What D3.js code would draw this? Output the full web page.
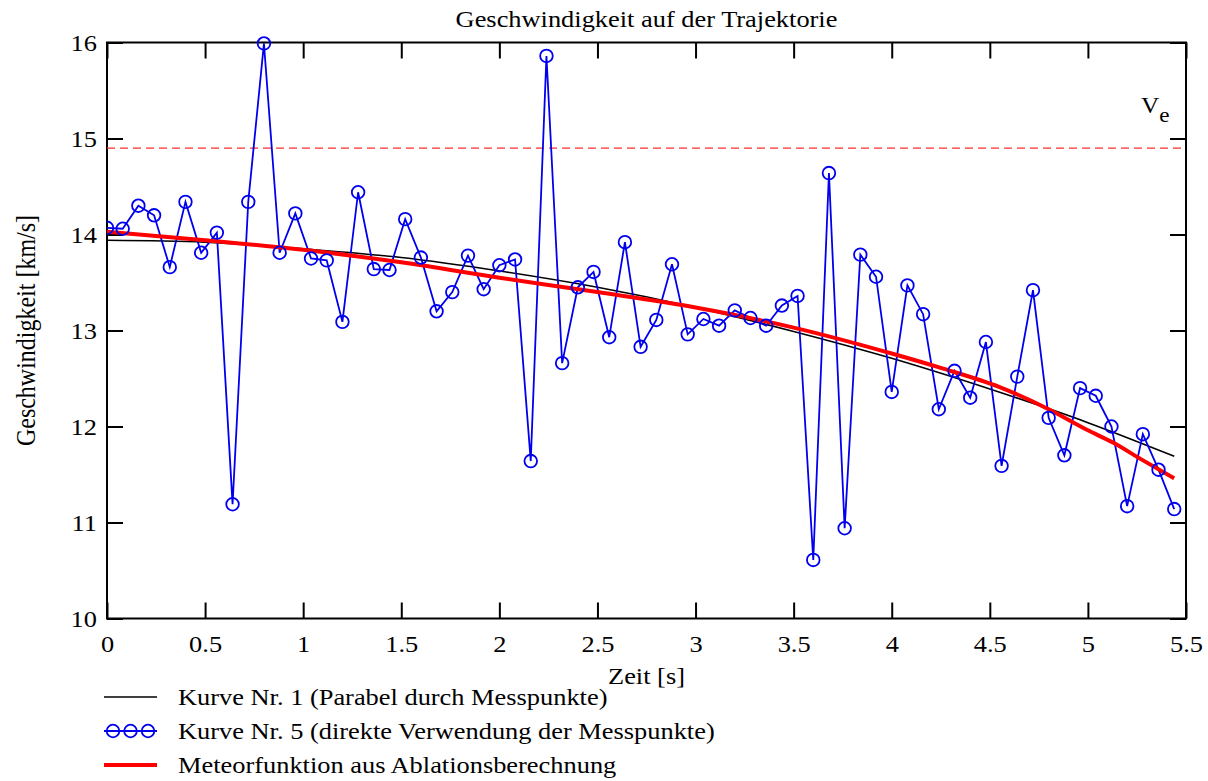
<!DOCTYPE html>
<html>
<head>
<meta charset="utf-8">
<script src="https://cdn.jsdelivr.net/npm/d3@7"></script>
<style>
  body { margin: 0; background: #fff; }
</style>
</head>
<body>
<div class="canvas"></div>
<script>
// measured speeds, one every 0.08 s (Kurve Nr. 5)
const messZeit = d3.range(69).map(i => +(i * 0.08).toFixed(2));
const messWerte = [
  14.07, 14.06, 14.30, 14.20, 13.66, 14.34, 13.81, 14.02, 11.19, 14.34,
  15.99, 13.81, 14.22, 13.75, 13.73, 13.09, 14.44, 13.64, 13.63, 14.16,
  13.76, 13.20, 13.40, 13.78, 13.43, 13.68, 13.74, 11.64, 15.86, 12.66,
  13.45, 13.61, 12.93, 13.92, 12.83, 13.11, 13.69, 12.96, 13.12, 13.05,
  13.21, 13.13, 13.05, 13.26, 13.36, 10.61, 14.64, 10.94, 13.79, 13.56,
  12.36, 13.47, 13.17, 12.18, 12.58, 12.30, 12.88, 11.59, 12.52, 13.42,
  12.09, 11.70, 12.40, 12.32, 12.00, 11.17, 11.92, 11.55, 11.14
];

// Kurve Nr. 1 (parabola), read at a few times
const parabelZeit  = [0, 0.5, 1, 1.5, 2, 2.5, 3, 3.5, 4, 4.5, 5, 5.44];
const parabelWerte = [13.94, 13.92, 13.85, 13.76, 13.62, 13.45, 13.24, 12.99, 12.71, 12.39, 12.04, 11.69];

// Meteorfunktion aus Ablationsberechnung
const meteorZeit  = [0, 0.5, 1, 1.5, 2, 2.5, 3, 3.5, 4, 4.25, 4.55, 4.8, 5, 5.13, 5.27, 5.44];
const meteorWerte = [14.03, 13.94, 13.84, 13.71, 13.55, 13.40, 13.24, 13.03, 12.76, 12.61, 12.41, 12.18, 11.96, 11.83, 11.66, 11.46];

const ve = 14.9;

const xTicks = [0, 0.5, 1, 1.5, 2, 2.5, 3, 3.5, 4, 4.5, 5, 5.5];
const yTicks = [10, 11, 12, 13, 14, 15, 16];

const legendTexte = [
  "Kurve Nr. 1 (Parabel durch Messpunkte)",
  "Kurve Nr. 5 (direkte Verwendung der Messpunkte)",
  "Meteorfunktion aus Ablationsberechnung"
];

const W = 1208, H = 781;
const plot = { left: 107, top: 42.5, right: 1186, bottom: 618.5 };
const serif = "'Liberation Serif', 'Times New Roman', serif";
const fs = 24;        // font size
const sx = 1.1;       // the original text is a bit wider than high

const svg = d3.select(".canvas").append("svg").attr("width", W).attr("height", H);

const x = d3.scaleLinear().domain([0, 5.5]).range([plot.left, plot.right]);
const y = d3.scaleLinear().domain([10, 16]).range([plot.bottom, plot.top]);

// horizontal text, slightly stretched
function label(px, py, txt, anchor) {
  return svg.append("text")
    .attr("transform", `translate(${px},${py}) scale(${sx},1)`)
    .attr("text-anchor", anchor || "start")
    .style("font-family", serif)
    .style("font-size", fs + "px")
    .text(txt);
}

svg.append("clipPath").attr("id", "clip")
  .append("rect")
  .attr("x", plot.left).attr("y", plot.top - 8)
  .attr("width", plot.right - plot.left).attr("height", plot.bottom - plot.top + 8);

// title
label((plot.left + plot.right) / 2, 27, "Geschwindigkeit auf der Trajektorie", "middle");

// axes, ticks inward on all four sides
const tick = 16;
const axB = svg.append("g").attr("transform", `translate(0,${plot.bottom})`)
  .call(d3.axisBottom(x).tickValues(xTicks).tickSize(-tick).tickPadding(12).tickFormat(d3.format("")));
const axT = svg.append("g").attr("transform", `translate(0,${plot.top})`)
  .call(d3.axisTop(x).tickValues(xTicks).tickSize(-tick).tickFormat(""));
const axL = svg.append("g").attr("transform", `translate(${plot.left},0)`)
  .call(d3.axisLeft(y).tickValues(yTicks).tickSize(-tick).tickPadding(10).tickFormat(d3.format("")));
const axR = svg.append("g").attr("transform", `translate(${plot.right},0)`)
  .call(d3.axisRight(y).tickValues(yTicks).tickSize(-tick).tickFormat(""));

[axB, axT, axL, axR].forEach(a => {
  a.select(".domain").remove();
  a.selectAll(".tick line").attr("stroke", "#000").attr("stroke-width", 2);
  a.selectAll(".tick text")
    .style("font-family", serif)
    .style("font-size", fs + "px")
    .attr("fill", "#000");
});
axB.selectAll(".tick text").attr("dy", "0.9em").attr("transform", `scale(${sx},1)`);
axL.selectAll(".tick text").attr("x", -10 / sx).attr("transform", `scale(${sx},1)`);

// frame
svg.append("rect")
  .attr("x", plot.left).attr("y", plot.top)
  .attr("width", plot.right - plot.left).attr("height", plot.bottom - plot.top)
  .attr("fill", "none").attr("stroke", "#000").attr("stroke-width", 2);

// axis labels
label((plot.left + plot.right) / 2, 684, "Zeit [s]", "middle");

svg.append("text")
  .attr("transform", `translate(35,${(plot.top + plot.bottom) / 2}) rotate(-90) scale(1,${sx})`)
  .attr("text-anchor", "middle")
  .style("font-family", serif)
  .style("font-size", fs + "px")
  .text("Geschwindigkeit [km/s]");

// Ve dashed line
svg.append("line")
  .attr("x1", plot.left).attr("x2", plot.right)
  .attr("y1", y(ve)).attr("y2", y(ve))
  .attr("stroke", "#ff3030").attr("stroke-width", 1.3)
  .attr("stroke-dasharray", "8,5");

const veLabel = svg.append("text")
  .attr("transform", `translate(1141,113) scale(${sx},1)`)
  .style("font-family", serif)
  .style("font-size", "23px");
veLabel.append("tspan").text("V");
veLabel.append("tspan").attr("dy", 9).style("font-size", "21px").text("e");

const g = svg.append("g").attr("clip-path", "url(#clip)");

const line = d3.line().x(d => x(d[0])).y(d => y(d[1]));
const smooth = d3.line().x(d => x(d[0])).y(d => y(d[1])).curve(d3.curveMonotoneX);

// Kurve Nr. 1
g.append("path")
  .datum(parabelZeit.map((t, i) => [t, parabelWerte[i]]))
  .attr("d", smooth)
  .attr("fill", "none").attr("stroke", "#000").attr("stroke-width", 1.6);

// Kurve Nr. 5
const mess = messZeit.map((t, i) => [t, messWerte[i]]);
g.append("path")
  .datum(mess)
  .attr("d", line)
  .attr("fill", "none").attr("stroke", "#0000ee").attr("stroke-width", 1.8);

// Meteorfunktion
g.append("path")
  .datum(meteorZeit.map((t, i) => [t, meteorWerte[i]]))
  .attr("d", smooth)
  .attr("fill", "none").attr("stroke", "#ff0000").attr("stroke-width", 4);

g.selectAll("circle.mess")
  .data(mess)
  .join("circle")
  .attr("class", "mess")
  .attr("cx", d => x(d[0]))
  .attr("cy", d => y(d[1]))
  .attr("r", 6.3)
  .attr("fill", "none")
  .attr("stroke", "#0000ee")
  .attr("stroke-width", 1.8);

// legend
const legY = [697, 731, 765];
legendTexte.forEach((txt, i) => {
  label(178, legY[i] + 8, txt);
});
const leg = svg.append("g");
leg.append("line")
  .attr("x1", 104).attr("x2", 157).attr("y1", legY[0]).attr("y2", legY[0])
  .attr("stroke", "#000").attr("stroke-width", 1.6);
leg.append("line")
  .attr("x1", 104).attr("x2", 157).attr("y1", legY[1]).attr("y2", legY[1])
  .attr("stroke", "#0000ee").attr("stroke-width", 1.8);
[113, 130.5, 148].forEach(cx => {
  leg.append("circle")
    .attr("cx", cx).attr("cy", legY[1]).attr("r", 6.3)
    .attr("fill", "none").attr("stroke", "#0000ee").attr("stroke-width", 1.8);
});
leg.append("line")
  .attr("x1", 104).attr("x2", 157).attr("y1", legY[2]).attr("y2", legY[2])
  .attr("stroke", "#ff0000").attr("stroke-width", 4);
</script>
</body>
</html>
